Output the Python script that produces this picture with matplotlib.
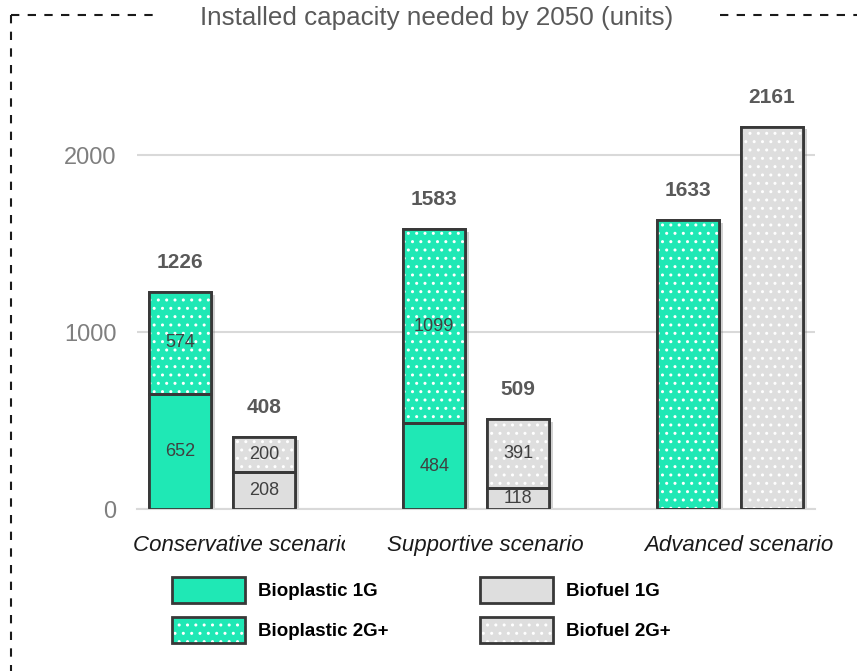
import matplotlib
matplotlib.use('Agg')
import matplotlib.pyplot as plt
import matplotlib.patheffects as pe
from matplotlib.lines import Line2D
from matplotlib.patches import Patch
from matplotlib.legend_handler import HandlerTuple
from matplotlib.transforms import ScaledTranslation, Bbox, TransformedBbox, blended_transform_factory
import numpy as np

plt.rcParams['font.family'] = ['Liberation Sans', 'DejaVu Sans']
plt.rcParams['hatch.linewidth'] = 1.0

# Capacity per scenario (units)
categories = ['Conservative scenario', 'Supportive scenario', 'Advanced scenario']
bioplastic_1g = [652, 484, 0]
bioplastic_2g = [574, 1099, 1633]
biofuel_1g = [208, 118, 0]
biofuel_2g = [200, 391, 2161]
y_ticks = [0, 1000, 2000]

GREEN = '#1fe8b5'
GREY = '#dedede'
EDGE = '#383838'
TEXT = '#595959'

fig = plt.figure(figsize=(8.57, 6.71), dpi=100)
ax = fig.add_axes([0.16, 0.2414, 0.791, 0.6331])

x = np.arange(len(categories))
width = 0.244
offset = 0.165
shadow = [pe.SimplePatchShadow(offset=(3, -2), shadow_rgbFace='#7f7f7f', alpha=0.35), pe.Normal()]


def stacked(xpos, base, top, color):
    base = np.array(base)
    top = np.array(top)
    # outline + shadow for the whole stack
    ax.bar(xpos, base + top, width, color=color, edgecolor=EDGE, linewidth=2,
           path_effects=shadow, zorder=2)
    # solid 1G segment
    ax.bar(xpos, base, width, color=color, edgecolor='none', zorder=3)
    # dotted 2G+ segment
    ax.bar(xpos, top, width, bottom=base, color=color, edgecolor='white',
           linewidth=0, hatch='..', zorder=3)
    # outlines on top
    ax.bar(xpos, base, width, fill=False, edgecolor=EDGE, linewidth=2, zorder=4)
    ax.bar(xpos, top, width, bottom=base, fill=False, edgecolor=EDGE, linewidth=2, zorder=4)
    for xi, b, t in zip(xpos, base, top):
        if b > 0:
            ax.text(xi, b / 2, f'{b}', ha='center', va='center', fontsize=13,
                    color='#404040', zorder=5)
            ax.text(xi, b + t / 2, f'{t}', ha='center', va='center', fontsize=13,
                    color='#404040', zorder=5)
        ax.annotate(f'{b + t}', (xi, b + t), xytext=(0, 21), textcoords='offset points',
                    ha='center', va='center', fontsize=15, fontweight='bold', color=TEXT)


stacked(x - offset, bioplastic_1g, bioplastic_2g, GREEN)
stacked(x + offset, biofuel_1g, biofuel_2g, GREY)

ax.set_xlim(-0.335, 2.335)
ax.set_ylim(0, 2400)
ax.set_yticks(y_ticks)
ax.set_yticklabels([str(v) for v in y_ticks], fontsize=17, color='#7f7f7f')
ax.set_xticks(x)
ax.set_xticklabels([])
ax.tick_params(axis='both', length=0)
ax.tick_params(axis='y', pad=15)
ax.grid(axis='y', color='#d9d9d9', linewidth=1.5)
ax.set_axisbelow(True)
for s in ['top', 'right', 'left']:
    ax.spines[s].set_visible(False)
ax.spines['bottom'].set_color('#d9d9d9')
ax.spines['bottom'].set_linewidth(1.5)

# category labels sit a little right of the group centres; the first one
# overflows its box, so it starts at the box's left edge and gets cut off
base_tr = blended_transform_factory(ax.transData, ax.transAxes)
cat_labels = []
for i, (xi, name) in enumerate(zip(x, categories)):
    dx, ha = (-89, 'left') if i == 0 else (9, 'center')
    tr = base_tr + ScaledTranslation(dx / 100, -36 / 100, fig.dpi_scale_trans)
    cat_labels.append(fig.text(xi, 0, name, transform=tr, ha=ha, va='center',
                               fontsize=16, style='italic', color='#1a1a1a'))
cat_labels[0].set_clip_box(TransformedBbox(Bbox([[0, 0], [345 / 857, 1]]), fig.transFigure))
cat_labels[0].set_clip_on(True)

fig.text(437 / 857, 1 - 18 / 671, 'Installed capacity needed by 2050 (units)',
         ha='center', va='center', fontsize=18.7, color=TEXT)

# legend, two columns
leg_kw = dict(frameon=False, handlelength=3.9, handleheight=1.75,
              handletextpad=0.7, labelspacing=0.75, borderpad=0, borderaxespad=0,
              loc='upper left', prop={'weight': 'bold', 'size': 13.5},
              handler_map={tuple: HandlerTuple(ndivide=1, pad=0)})


def solid(color):
    return Patch(facecolor=color, edgecolor=EDGE, linewidth=2)


def dotted(color):
    return (Patch(facecolor=color, edgecolor='white', linewidth=0, hatch='..'),
            Patch(fill=False, edgecolor=EDGE, linewidth=2))


fig.legend([solid(GREEN), dotted(GREEN)], ['Bioplastic 1G', 'Bioplastic 2G+'],
           bbox_to_anchor=(172 / 857, 1 - 577 / 671), **leg_kw)
fig.legend([solid(GREY), dotted(GREY)], ['Biofuel 1G', 'Biofuel 2G+'],
           bbox_to_anchor=(480 / 857, 1 - 577 / 671), **leg_kw)

# dashed frame pieces
frame = dict(color='#1a1a1a', linewidth=1.5, linestyle=(0, (4, 4)))
fig.add_artist(Line2D([11 / 857, 155 / 857], [1 - 15 / 671, 1 - 15 / 671], **frame))
fig.add_artist(Line2D([11 / 857, 11 / 857], [1 - 15 / 671, 0], **frame))
fig.add_artist(Line2D([720 / 857, 1.0], [1 - 15 / 671, 1 - 15 / 671], **frame))

fig.savefig('out.png', dpi=100)
